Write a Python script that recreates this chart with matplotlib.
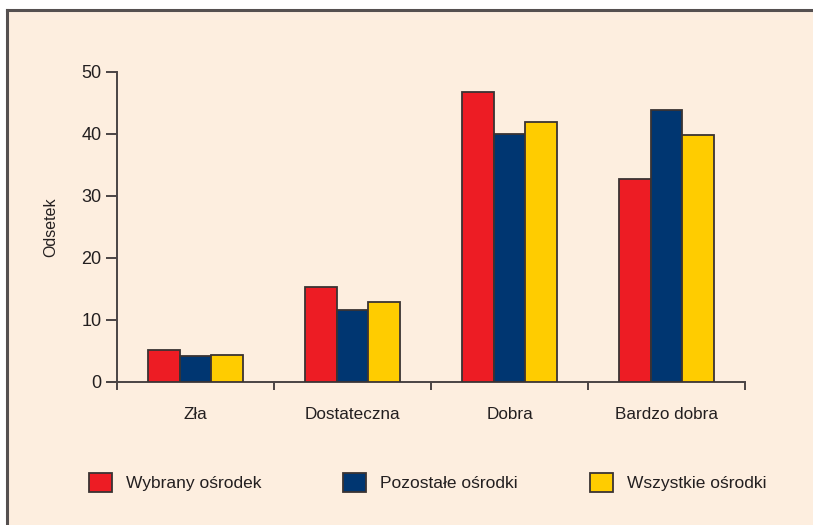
import matplotlib
matplotlib.use("Agg")
import matplotlib.pyplot as plt
from matplotlib.patches import Rectangle
import numpy as np

categories = ["Zła", "Dostateczna", "Dobra", "Bardzo dobra"]
series_names = ["Wybrany ośrodek", "Pozostałe ośrodki", "Wszystkie ośrodki"]
wybrany = [5.2, 15.3, 46.8, 32.8]
pozostale = [4.2, 11.6, 40.0, 43.8]
wszystkie = [4.4, 12.9, 41.9, 39.8]
yticks = [0, 10, 20, 30, 40, 50]

colors = ["#ED1C24", "#003671", "#FFCC00"]
bg = "#FDEEDF"
edge = "#3a3333"
txt = "#231f20"

sans = ["Liberation Sans", "DejaVu Sans"]

fig = plt.figure(figsize=(8.13, 5.25), dpi=100)
fig.patch.set_facecolor("white")
# panel background with border (top and left)
fig.add_artist(Rectangle((7/813, 0), 1 - 7/813, 1 - 9.5/525, transform=fig.transFigure,
                         facecolor=bg, edgecolor="none", zorder=-10))
fig.add_artist(plt.Line2D([7/813, 7/813], [0, 1 - 9.5/525], transform=fig.transFigure,
                          color="#555050", lw=2.2, zorder=-5))
fig.add_artist(plt.Line2D([7/813, 1], [1 - 9.5/525, 1 - 9.5/525], transform=fig.transFigure,
                          color="#555050", lw=2.2, zorder=-5))

ax = fig.add_axes([117/813, 1 - 382/525, (745 - 117)/813, (382 - 72)/525])
ax.set_facecolor("none")
ax.set_zorder(2)

x = np.arange(len(categories)) + 0.5
w = 0.2
bars = []
for i, (vals, name) in enumerate(zip([wybrany, pozostale, wszystkie], series_names)):
    b = ax.bar(x + (i - 1) * w, vals, width=w, color=colors[i], edgecolor=edge, linewidth=1.3,
               label=name, zorder=3)
    bars.append(b)

ax.set_xlim(0, 4)
ax.set_ylim(0, 50)
ax.spines["top"].set_visible(False)
ax.spines["right"].set_visible(False)
for s in ["left", "bottom"]:
    ax.spines[s].set_color("#4a4444")
    ax.spines[s].set_linewidth(1.4)
ax.spines["left"].set_bounds(-1.2, 50)
ax.spines["bottom"].set_bounds(-0.06, 4)

ax.set_yticks(yticks)
ax.set_yticklabels([str(t) for t in yticks], family=sans, fontsize=13, color=txt)
ax.tick_params(axis="y", length=8, width=1.4, color="#4a4444", pad=3)

ax.set_xticks([1, 2, 3, 4])
ax.set_xticklabels([])
ax.set_xticks(x, minor=True)
ax.set_xticklabels(categories, minor=True, family=sans, fontsize=12.3, color=txt)
ax.tick_params(axis="x", which="major", length=6, width=1.4, color="#4a4444", direction="out")
ax.tick_params(axis="x", which="minor", length=0, pad=18)

ax.set_ylabel("Odsetek", family=sans, fontsize=11.5, color=txt, labelpad=17)

legend_x = [89, 343, 590]
for b, name, lx in zip(bars, series_names, legend_x):
    leg = fig.legend([b], [name], loc="center left", bbox_to_anchor=(lx/813, 1 - 482.5/525),
                     frameon=False, handlelength=1.32, handleheight=1.32,
                     handletextpad=0.8, borderpad=0, borderaxespad=0,
                     prop={"family": sans, "size": 12.5})
    for t in leg.get_texts():
        t.set_color(txt)

fig.savefig("out.png", dpi=100, facecolor=fig.get_facecolor())
